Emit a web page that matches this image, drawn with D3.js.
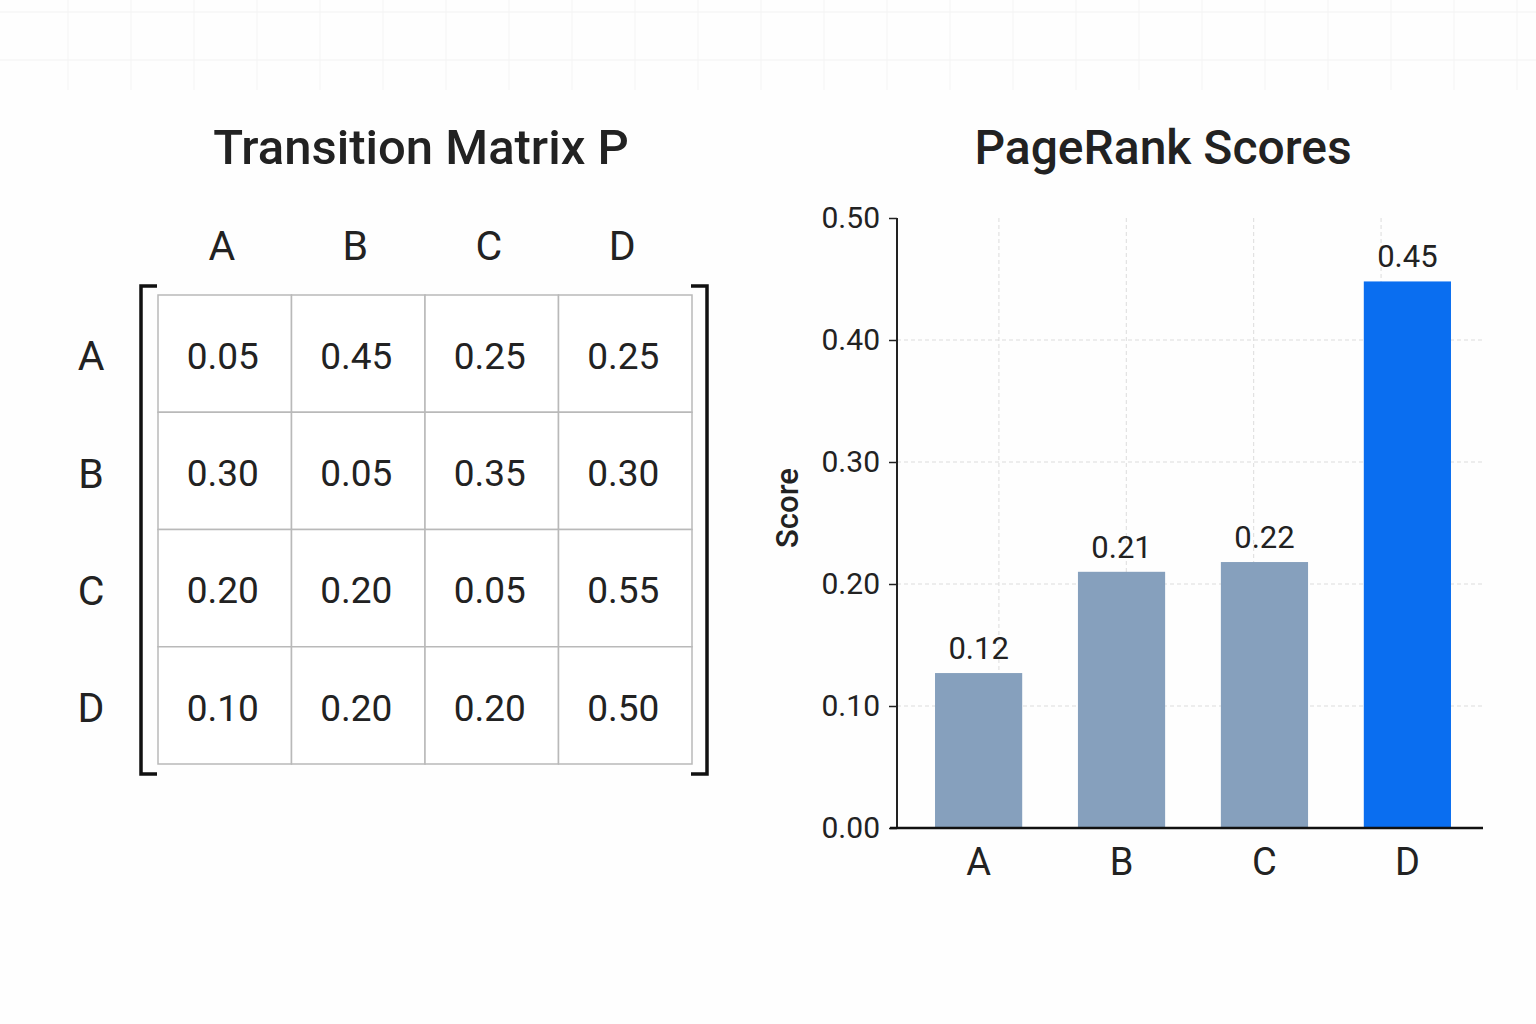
<!DOCTYPE html>
<html>
<head>
<meta charset="utf-8">
<script src="https://cdn.jsdelivr.net/npm/d3@7"></script>
<style>
  html, body { margin: 0; padding: 0; background: #fefefe; }
  svg { display: block; font-family: Roboto, "Noto Sans", sans-serif; }
</style>
</head>
<body>
<svg id="chart" width="1536" height="1024"></svg>
<script>
// ---------- data ----------
const nodes = ["A", "B", "C", "D"];
const matrixRowA = [0.05, 0.45, 0.25, 0.25];
const matrixRowB = [0.30, 0.05, 0.35, 0.30];
const matrixRowC = [0.20, 0.20, 0.05, 0.55];
const matrixRowD = [0.10, 0.20, 0.20, 0.50];
const matrixRows = [matrixRowA, matrixRowB, matrixRowC, matrixRowD];
const scores = [0.127, 0.21, 0.218, 0.448];
const scoreLabels = ["0.12", "0.21", "0.22", "0.45"];
const yTicks = [0.0, 0.1, 0.2, 0.3, 0.4, 0.5];
const gridXPositions = [0.8, 1.8, 2.8, 3.8];
const highlightNode = "D";

const svg = d3.select("#chart");
const W = 1536, H = 1024;

// faint background lines
const bg = svg.append("g").attr("stroke", "#f1f1f1").attr("stroke-width", 1.2);
[12, 60].forEach(y => bg.append("line").attr("x1", 0).attr("x2", W).attr("y1", y).attr("y2", y));
d3.range(68, W, 63).forEach(x => bg.append("line").attr("x1", x).attr("x2", x).attr("y1", 0).attr("y2", 90).attr("stroke", "#f5f5f5"));

// ---------- matrix ----------
const mx = d3.scaleBand().domain(nodes).range([158, 692]);
const my = d3.scaleBand().domain(nodes).range([295, 764]);

svg.append("text").attr("x", 421).attr("y", 164).attr("text-anchor", "middle")
  .attr("font-size", 49).attr("font-weight", 500).attr("fill", "#222")
  .text("Transition Matrix P");

const mg = svg.append("g");
nodes.forEach((r, i) => {
  nodes.forEach((c, j) => {
    mg.append("rect")
      .attr("x", mx(c)).attr("y", my(r))
      .attr("width", mx.bandwidth()).attr("height", my.bandwidth())
      .attr("fill", "#fff").attr("stroke", "#b9b9b9").attr("stroke-width", 1.5);
    mg.append("text")
      .attr("x", mx(c) + mx.bandwidth() / 2 - 2)
      .attr("y", my(r) + my.bandwidth() / 2 + 2)
      .attr("dy", "0.36em").attr("text-anchor", "middle")
      .attr("font-size", 37).attr("fill", "#222")
      .text(matrixRows[i][j].toFixed(2));
  });
});
mg.selectAll(".colh").data(nodes).enter().append("text")
  .attr("x", d => mx(d) + mx.bandwidth() / 2 - 3).attr("y", 245)
  .attr("dy", "0.36em").attr("text-anchor", "middle")
  .attr("font-size", 41).attr("fill", "#222").text(d => d);
mg.selectAll(".rowh").data(nodes).enter().append("text")
  .attr("x", 91).attr("y", d => my(d) + my.bandwidth() / 2 + 2)
  .attr("dy", "0.36em").attr("text-anchor", "middle")
  .attr("font-size", 41).attr("fill", "#222").text(d => d);
const br = mg.append("g").attr("fill", "none").attr("stroke", "#111").attr("stroke-width", 3.5);
br.append("path").attr("d", `M157,286 H141 V774 H157`);
br.append("path").attr("d", `M691,286 H707 V774 H691`);

// ---------- bar chart ----------
const x0 = 897, x1 = 1489, yTop = 218, yBot = 828;
const x = d3.scaleBand().domain(nodes).range([x0, x1]).paddingInner(0.39).paddingOuter(0.266);
const y = d3.scaleLinear().domain([0, 0.5]).range([yBot, yTop]);
const gx = d3.scaleLinear().domain([0, 4.6]).range([x0, x0 + 586]);

svg.append("text").attr("x", 1163).attr("y", 164).attr("text-anchor", "middle")
  .attr("font-size", 48).attr("font-weight", 500).attr("fill", "#222")
  .text("PageRank Scores");

const grid = svg.append("g").attr("stroke", "#dcdcdc").attr("stroke-width", 1).attr("stroke-dasharray", "4,3");
grid.selectAll(".hg").data(yTicks.filter(t => t > 0 && t < 0.5)).enter().append("line")
  .attr("x1", x0).attr("x2", 1485).attr("y1", d => y(d)).attr("y2", d => y(d));
grid.selectAll(".vg").data(gridXPositions).enter().append("line")
  .attr("x1", d => gx(d)).attr("x2", d => gx(d)).attr("y1", yTop).attr("y2", yBot);

svg.selectAll(".bar").data(nodes).enter().append("rect")
  .attr("x", d => x(d)).attr("width", x.bandwidth())
  .attr("y", (d, i) => y(scores[i])).attr("height", (d, i) => yBot - y(scores[i]))
  .attr("fill", d => d === highlightNode ? "#0a6ef0" : "#86a0bd");

svg.selectAll(".blab").data(nodes).enter().append("text")
  .attr("x", d => x(d) + x.bandwidth() / 2)
  .attr("y", (d, i) => y(scores[i]) - 14)
  .attr("text-anchor", "middle").attr("font-size", 31).attr("fill", "#222")
  .text((d, i) => scoreLabels[i]);

const yAxis = svg.append("g").attr("transform", `translate(${x0},0)`)
  .call(d3.axisLeft(y).tickValues(yTicks).tickFormat(d3.format(".2f")).tickSize(8).tickPadding(9));
yAxis.select(".domain").attr("stroke", "#222").attr("stroke-width", 2).attr("d", `M0,${yTop}V${yBot}`);
yAxis.selectAll(".tick line").attr("stroke", "#222").attr("stroke-width", 1.5);
yAxis.selectAll(".tick text").attr("font-size", 30).attr("fill", "#222")
  .attr("font-family", "Roboto, sans-serif");

const xAxis = svg.append("g").attr("transform", `translate(0,${yBot})`)
  .call(d3.axisBottom(x).tickSize(0).tickPadding(20));
xAxis.select(".domain").attr("stroke", "#111").attr("stroke-width", 2.5).attr("d", `M890,0H1483`);
xAxis.selectAll(".tick text").attr("font-size", 38).attr("fill", "#222")
  .attr("font-family", "Roboto, sans-serif");

svg.append("text").attr("transform", "translate(798,508) rotate(-90)")
  .attr("text-anchor", "middle").attr("font-size", 31).attr("font-weight", 500)
  .attr("fill", "#222").text("Score");
</script>
</body>
</html>
